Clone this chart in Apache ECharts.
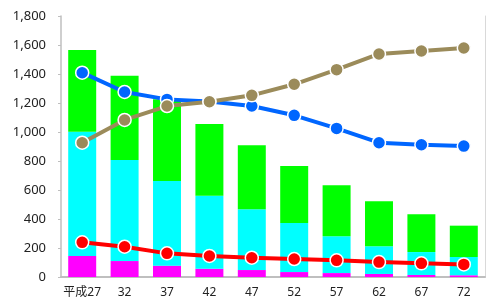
<!DOCTYPE html>
<html>
<head>
<meta charset="utf-8">
<script src="https://cdn.jsdelivr.net/npm/echarts@6/dist/echarts.min.js"></script>
<style>
  html, body { margin: 0; padding: 0; background: #fff; }
  #chart { width: 486px; height: 305px; }
</style>
</head>
<body>
<div id="chart"></div>
<script>
const years = ['平成27', '32', '37', '42', '47', '52', '57', '62', '67', '72'];

// stacked bars (bottom to top)
const magenta = [145, 110, 78, 57, 48, 34, 27, 21, 14, 12];
const cyan = [857, 697, 584, 504, 419, 338, 254, 191, 158, 126];
const green = [564, 581, 563, 494, 441, 394, 351, 310, 260, 216];

// lines
const blueLine = [1409, 1276, 1225, 1210, 1179, 1115, 1025, 926, 912, 903];
const oliveLine = [926, 1083, 1179, 1209, 1253, 1329, 1430, 1538, 1559, 1579];
const redLine = [239, 209, 163, 145, 133, 124, 115, 103, 94, 87];

const font = '"Noto Sans", "Noto Sans CJK JP", sans-serif';

function bar(name, data, color) {
  return {
    name, type: 'bar', stack: 'total', data,
    barCategoryGap: '34%',
    itemStyle: { color },
    z: 1
  };
}

function line(name, data, color) {
  return {
    name, type: 'line', data,
    symbol: 'circle', symbolSize: 13,
    lineStyle: { color, width: 4 },
    itemStyle: { color, borderColor: '#fff', borderWidth: 1.5 },
    z: 5
  };
}

const chart = echarts.init(document.getElementById('chart'));
chart.setOption({
  animation: false,
  textStyle: { fontFamily: font },
  grid: { left: 61, right: 1, top: 16, bottom: 28 },
  xAxis: {
    type: 'category',
    data: years,
    axisLine: { lineStyle: { color: '#bfbfbf', width: 2 } },
    axisTick: { show: false },
    axisLabel: { color: '#222', fontSize: 12, margin: 10, interval: 0 }
  },
  yAxis: [{
    type: 'value',
    min: 0, max: 1800, interval: 200,
    axisLine: { show: true, lineStyle: { color: '#bfbfbf', width: 1.5 } },
    axisTick: { show: true, length: 3, lineStyle: { color: '#bfbfbf' } },
    splitLine: { show: false },
    axisLabel: {
      color: '#222', fontSize: 13, margin: 15,
      formatter: v => v.toLocaleString('en-US')
    }
  }, {
    type: 'value',
    position: 'right',
    min: 0, max: 1800, interval: 200,
    axisLine: { show: true, lineStyle: { color: '#d9d9d9', width: 1 } },
    axisTick: { show: false },
    axisLabel: { show: false },
    splitLine: { show: false }
  }],
  series: [
    bar('magenta', magenta, '#ff00ff'),
    bar('cyan', cyan, '#00ffff'),
    bar('green', green, '#00ff00'),
    line('blue', blueLine, '#0066ff'),
    line('olive', oliveLine, '#9b8b5a'),
    line('red', redLine, '#ff0000')
  ]
});
</script>
</body>
</html>
